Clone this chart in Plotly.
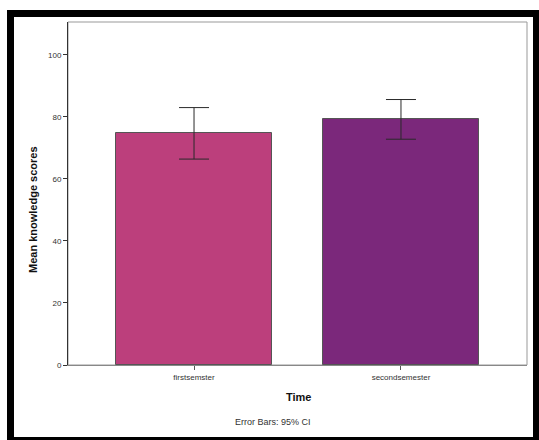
import plotly.graph_objects as go

# Mean knowledge scores by semester, with 95% CI bounds
categories = ["firstsemster", "secondsemester"]
means = [74.8, 79.3]
ci_upper = [83.0, 85.6]
ci_lower = [66.4, 72.8]
bar_colors = ["#BC3F7C", "#7B287B"]
y_ticks = [0, 20, 40, 60, 80, 100]

W, H = 539, 440
L, R, T, B = 68, 527, 22, 365  # plot area in pixels
pw, ph = R - L, B - T


def fx(px):
    return (px - L) / pw


def fy(py):
    return (B - py) / ph


err_plus = [u - m for u, m in zip(ci_upper, means)]
err_minus = [m - l for m, l in zip(means, ci_lower)]

fig = go.Figure()
fig.add_trace(go.Bar(
    x=[0, 1],
    y=means,
    width=0.75,
    marker=dict(color=bar_colors, line=dict(color="#555555", width=1)),
    error_y=dict(type="data", symmetric=False, array=err_plus, arrayminus=err_minus,
                 color="#2a2a2a", thickness=1, width=15),
    showlegend=False,
    hoverinfo="skip",
))

font = "Liberation Sans, Arial, sans-serif"
fig.update_layout(
    width=W, height=H,
    margin=dict(l=L, r=W - R, t=T, b=H - B, pad=0),
    paper_bgcolor="white",
    plot_bgcolor="white",
    font=dict(family=font, size=8, color="#333333"),
    bargap=0,
    xaxis=dict(
        range=[-0.609, 1.609],
        tickvals=[0, 1],
        ticktext=categories,
        ticks="outside", ticklen=4, tickcolor="#555555",
        showline=True, linecolor="#888888", linewidth=1,
        showgrid=False, zeroline=False,
        tickfont=dict(size=8, color="#333333"),
    ),
    yaxis=dict(
        range=[0, 110.6],
        tickvals=y_ticks,
        ticks="outside", ticklen=4, tickcolor="#333333",
        showline=True, linecolor="#333333", linewidth=1,
        showgrid=False, zeroline=False,
        tickfont=dict(size=8, color="#333333"),
    ),
    shapes=[
        # plot frame (top and right edges)
        dict(type="rect", xref="paper", yref="paper", x0=0, x1=1, y0=0, y1=1,
             line=dict(color="#999999", width=1), layer="below"),
        # outer black border
        dict(type="rect", xref="paper", yref="paper",
             x0=fx(10.5), x1=fx(536.5), y0=fy(440.5), y1=fy(13.5),
             line=dict(color="black", width=7)),
    ],
    annotations=[
        dict(text="<b>Mean knowledge scores</b>", textangle=-90, xref="paper", yref="paper",
             x=fx(33), y=fy(210), showarrow=False, xanchor="center", yanchor="middle",
             font=dict(size=11, color="#111111")),
        dict(text="<b>Time</b>", xref="paper", yref="paper",
             x=fx(298), y=fy(397), showarrow=False, xanchor="center", yanchor="middle",
             font=dict(size=11, color="#111111")),
        dict(text="Error Bars: 95% CI", xref="paper", yref="paper",
             x=fx(273), y=fy(422), showarrow=False, xanchor="center", yanchor="middle",
             font=dict(size=9, color="#333333")),
    ],
)

fig.write_html("out.html")
